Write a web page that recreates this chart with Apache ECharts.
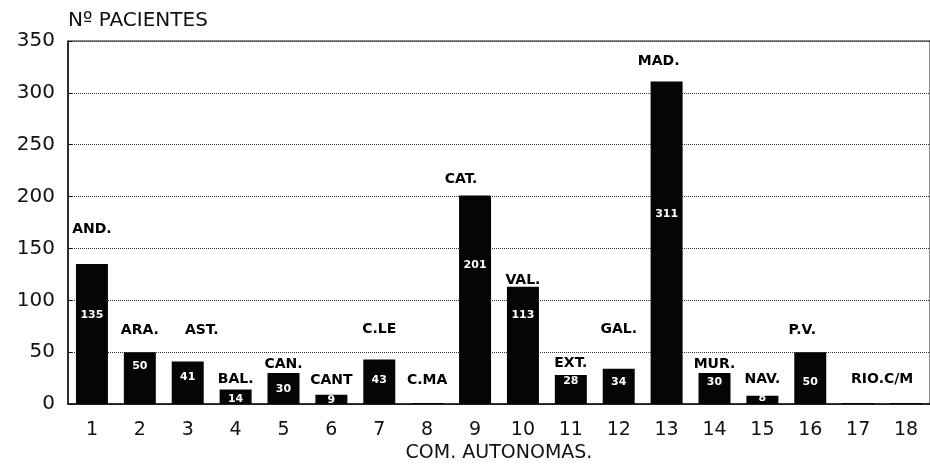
<!DOCTYPE html>
<html>
<head>
<meta charset="utf-8">
<script src="https://cdn.jsdelivr.net/npm/echarts@6/dist/echarts.min.js"></script>
<style>
  html, body { margin: 0; padding: 0; background: #fff; }
  #chart { width: 930px; height: 468px; }
</style>
</head>
<body>
<div id="chart"></div>
<script>
// Pacientes por comunidad autonoma
const categories = ['1','2','3','4','5','6','7','8','9','10','11','12','13','14','15','16','17','18'];
const regions = ['AND.','ARA.','AST.','BAL.','CAN.','CANT','C.LE','C.MA','CAT.','VAL.','EXT.','GAL.','MAD.','MUR.','NAV.','P.V.','RIO.C/M',''];
const patients = [135, 50, 41, 14, 30, 9, 43, 1, 201, 113, 28, 34, 311, 30, 8, 50, 1, 1];
// height (in patients) where each region name / value label sits
const regionLabelLevel = [168, 71, 71, 24, 38, 23, 72, 23, 217, 119, 39, 72, 330, 38, 24, 71, 24, null];
const valueLabelLevel = [86, 37, 26, 5, 14, 4, 23, null, 134, 86, 22, 21, 183, 21, 6, 21, null, null];

(function(){
  const el = document.getElementById('chart');
  const chart = echarts.init(el);
  const shiftX = { 2: 14, 8: -14, 12: -8, 15: -8, 16: 24 };

  const regionData = [];
  regions.forEach((r, i) => {
    if (regionLabelLevel[i] == null) return;
    regionData.push({
      value: [i, regionLabelLevel[i]],
      name: r,
      label: { offset: [shiftX[i] || 0, 0] }
    });
  });
  const valueData = [];
  patients.forEach((v, i) => {
    if (valueLabelLevel[i] == null) return;
    valueData.push({ value: [i, valueLabelLevel[i]], name: String(v) });
  });

  chart.setOption({
    backgroundColor: '#fff',
    animation: false,
    title: {
      text: 'Nº PACIENTES', left: 63, top: 6,
      textStyle: { fontFamily: 'DejaVu Sans', fontSize: 20, fontWeight: 'normal', color: '#111' }
    },
    grid: { left: 68, right: -7, top: 41, bottom: 60, show: true, borderColor: '#111', borderWidth: 1 },
    xAxis: {
      type: 'category', data: categories,
      name: 'COM. AUTONOMAS.', nameLocation: 'middle', nameGap: 34,
      nameTextStyle: { fontFamily: 'DejaVu Sans', fontSize: 19, color: '#111' },
      axisLine: { lineStyle: { color: '#111', width: 1.5 } },
      axisTick: { show: false },
      axisLabel: { fontFamily: 'DejaVu Sans', fontSize: 19, color: '#111', margin: 16 }
    },
    yAxis: {
      type: 'value', min: 0, max: 350, interval: 50,
      axisLine: { show: true, lineStyle: { color: '#111', width: 1.5 } },
      axisTick: { show: true, inside: true, length: 4, lineStyle: { color: '#111' } },
      axisLabel: { fontFamily: 'DejaVu Sans', fontSize: 20, color: '#111', margin: 13 },
      splitLine: { lineStyle: { type: 'dotted', color: '#333', width: 1 } }
    },
    series: [
      {
        name: 'Pacientes', type: 'bar', data: patients, barWidth: 32, z: 2,
        itemStyle: { color: '#050505' }
      },
      {
        type: 'scatter', data: regionData, symbolSize: 0, z: 5, silent: true,
        itemStyle: { color: 'transparent', opacity: 1 },
        label: {
          show: true, position: 'inside', formatter: p => p.name,
          fontFamily: 'DejaVu Sans', fontWeight: 'bold', fontSize: 14, color: '#000',
          textBorderWidth: 0
        }
      },
      {
        type: 'scatter', data: valueData, symbolSize: 0, z: 6, silent: true,
        itemStyle: { color: 'transparent', opacity: 1 },
        label: {
          show: true, position: 'inside', formatter: p => p.name,
          fontFamily: 'DejaVu Sans', fontWeight: 'bold', fontSize: 11, color: '#fff',
          textBorderWidth: 0
        }
      }
    ]
  });
})();
</script>
</body>
</html>
